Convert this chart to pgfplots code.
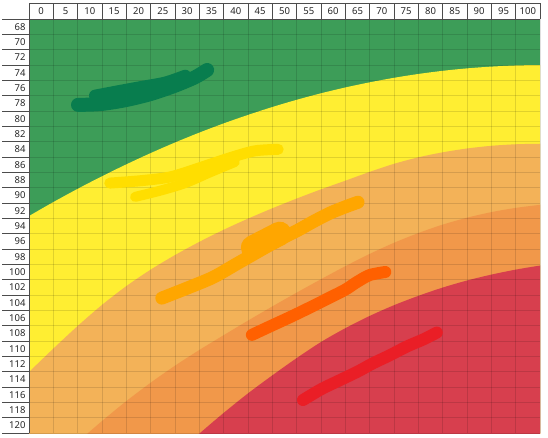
\documentclass[border=0pt]{standalone}
\usepackage{pgfplots}
\pgfplotsset{compat=1.18}
\usepackage{fontspec}
\setmainfont{Noto Sans}
\definecolor{cgreen}{RGB}{61,157,88}
\definecolor{cyellow}{RGB}{255,238,50}
\definecolor{clorange}{RGB}{243,178,88}
\definecolor{corange}{RGB}{241,152,74}
\definecolor{cred}{RGB}{215,63,78}
\definecolor{sgreen}{RGB}{8,125,78}
\definecolor{syellow}{RGB}{255,222,0}
\definecolor{sorange}{RGB}{255,166,0}
\definecolor{sorred}{RGB}{255,96,0}
\definecolor{sred}{RGB}{234,30,38}
\pgfplotsset{
 base/.style={
  at={(29pt,4pt)}, anchor=south west,
  width=511pt, height=414pt, scale only axis,
  xmin=-2.5, xmax=102.5, ymin=67, ymax=121, y dir=reverse,
  no markers,
 },
 brush/.style={line width=#1, line cap=round, line join=round, smooth},
}
\begin{document}
\begin{tikzpicture}[x=1pt,y=1pt]
\path[use as bounding box] (0,0) rectangle (548,437);
\begin{axis}[
 base,
 axis on top,
 axis background/.style={fill=cgreen},
 xtick={0,5,...,100}, ytick={68,70,...,120},
 minor xtick={-2.5,2.5,...,102.5}, minor ytick={67,69,...,121},
 xminorgrids=true, yminorgrids=true,
 minor grid style={black, opacity=0.12, line width=0.6pt},
 major tick length=0pt, minor tick length=0pt,
 tick style={draw=none},
 xticklabel pos=upper,
 xticklabel style={anchor=center, yshift=7.5pt},
 ticklabel style={font=\fontsize{9.5}{11}\selectfont, text=black!85},
 /pgf/number format/assume math mode=true,
 axis line style={draw=none},
]
% yellow (below green/yellow boundary)
\addplot[fill=cyellow, draw=none, smooth] coordinates {
(-7.5,94.6) (-2.5,92.70) (2.5,90.88) (7.5,89.15) (12.5,87.51) (17.5,85.96) (22.5,84.49)
(27.5,83.11) (32.5,81.82) (37.5,80.62) (42.5,79.51) (47.5,78.48) (52.5,77.54)
(57.5,76.69) (62.5,75.93) (67.5,75.26) (72.5,74.67) (77.5,74.17) (82.5,73.76)
(87.5,73.44) (92.5,73.21) (97.5,73.06) (102.5,73.00) (107.5,73.0)
(110,135) (-10,135)} --cycle;
% light orange
\addplot[fill=clorange, draw=none, smooth] coordinates {
(-7.5,116.1) (-2.5,113.04) (2.5,109.99) (7.5,107.04) (12.5,104.29) (17.5,101.84)
(22.5,99.69) (27.5,97.79) (32.5,96.07) (37.5,94.49) (42.5,93.04) (47.5,91.69)
(52.5,90.42) (57.5,89.22) (62.5,88.09) (67.5,86.94) (72.5,85.89) (77.5,85.04)
(82.5,84.39) (87.5,83.89) (92.5,83.54) (97.5,83.34) (102.5,83.27) (107.5,83.25)
(110,135) (-10,135)} --cycle;
% orange
\addplot[fill=corange, draw=none, smooth] coordinates {
(2.5,125.0) (7.5,122.19) (12.5,119.44) (17.5,116.84) (22.5,114.44) (27.5,112.22)
(32.5,110.17) (37.5,108.24) (42.5,106.34) (47.5,104.49) (52.5,102.69) (57.5,100.94)
(62.5,99.24) (67.5,97.64) (72.5,96.19) (77.5,94.92) (82.5,93.82) (87.5,92.92)
(92.5,92.19) (97.5,91.64) (102.5,91.24) (107.5,90.9)
(110,135) (0,135)} --cycle;
% red
\addplot[fill=cred, draw=none, smooth] coordinates {
(27.5,123.93) (32.5,121.08) (37.5,118.38) (42.5,115.83) (47.5,113.48) (52.5,111.23)
(57.5,109.13) (62.5,107.33) (67.5,105.73) (72.5,104.33) (77.5,103.11) (82.5,102.03)
(87.5,101.11) (92.5,100.34) (97.5,99.69) (102.5,99.16) (107.5,98.7)
(110,135) (25,135)} --cycle;
\end{axis}
\begin{axis}[base, hide axis]
\addplot[sgreen, brush=14pt] coordinates {
(7.57,78.2) (12.1,78.1) (17.2,77.6) (22.4,76.8) (27.5,75.7) (31.6,74.6) (34.1,73.65)};
\addplot[sgreen, brush=12pt] coordinates {
(11.06,77.0) (15.2,76.5) (20.3,75.9) (25.45,75.3) (29.6,74.4)};
\addplot[syellow, brush=11pt] coordinates {
(14.1,88.4) (20.3,88.1) (26.5,87.6) (32.6,86.4) (38.8,85.1) (43.9,84.2) (48.7,84.0)};
\addplot[syellow, brush=10pt] coordinates {
(19.3,90.2) (24.4,89.4) (29.6,88.4) (34.7,87.0) (39.8,85.65)};
\addplot[sorange, brush=13pt] coordinates {
(24.8,103.4) (30,102.1) (35.3,100.7) (40,99.0) (44.4,97.4) (48.5,95.9) (52.6,94.6)
(56,93.4) (59.4,92.3) (62.5,91.5) (65.1,90.9)};
\addplot[sorange, brush=24pt] coordinates {(43.5,96.8) (49.0,95.0)};
\addplot[sorred, brush=12pt] coordinates {
(43.3,108.2) (47,107.1) (51.1,105.9) (55,104.7) (59.4,103.3) (62.5,102.3)
(64.9,101.3) (67.5,100.4) (70.7,100.0)};
\addplot[sred, brush=12pt] coordinates {
(53.8,116.7) (57.5,115.3) (61.4,114.1) (65,113.0) (68.2,111.9) (71.5,110.9)
(75.2,109.7) (78.5,108.8) (81.3,107.9)};
\end{axis}
\begin{scope}[black!70, line width=0.6pt]
\foreach \i in {0,...,21} \draw ({29+\i*511/21},418) -- ({29+\i*511/21},434);
\draw (29,434) -- (540,434);
\draw (2,418) -- (540,418);
\foreach \j in {1,...,27} \draw (2,{418-\j*414/27}) -- (29,{418-\j*414/27});
\draw (29,4) -- (29,434);
\end{scope}
\end{tikzpicture}
\end{document}
